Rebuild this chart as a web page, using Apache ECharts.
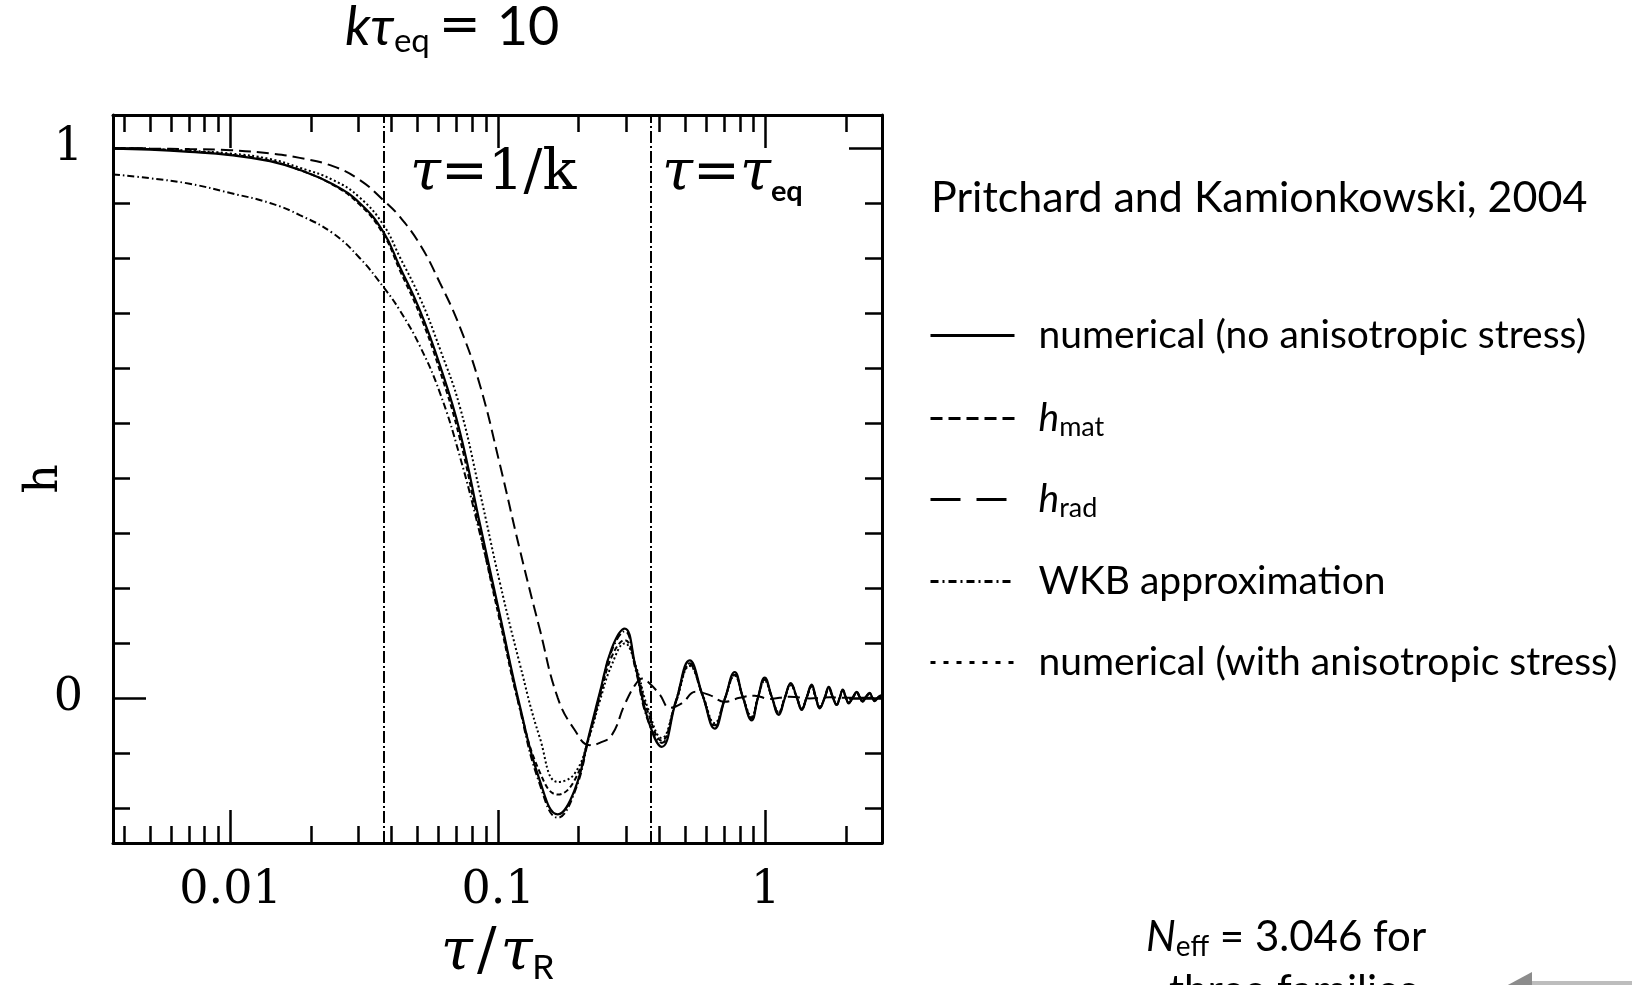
<!DOCTYPE html>
<html>
<head>
<meta charset="utf-8">
<title>k tau_eq = 10</title>
<script src="https://cdn.jsdelivr.net/npm/echarts@6/dist/echarts.min.js"></script>
<style>
  html, body { margin: 0; padding: 0; background: #fff; }
  #chart { width: 1632px; height: 985px; }
</style>
</head>
<body>
<div id="chart"></div>
<script>
var tauMain = [0.00364, 0.0050, 0.00704, 0.0100, 0.01404, 0.01816, 0.02413, 0.0304, 0.0373, 0.0429,
  0.0510, 0.0606, 0.0719, 0.0854, 0.1015, 0.1205, 0.1431, 0.1671, 0.1931, 0.2201,
  0.2398, 0.2659, 0.2973, 0.3268, 0.3624, 0.4089, 0.4611, 0.520, 0.5816, 0.645,
  0.7029, 0.766, 0.8205, 0.8865, 0.9335, 0.9915, 1.053, 1.118, 1.178, 1.240,
  1.306, 1.363, 1.423, 1.485, 1.537, 1.591, 1.661, 1.720, 1.780, 1.842,
  1.890, 1.940, 1.990, 2.043, 2.113, 2.188, 2.245, 2.303, 2.363, 2.446,
  2.499, 2.554, 2.644, 2.72];

// numerical (no anisotropic stress) - solid
var hNumerical = [0.999, 0.997, 0.993, 0.987, 0.976, 0.960, 0.934, 0.900, 0.847, 0.784,
  0.705, 0.605, 0.485, 0.318, 0.151, -0.014, -0.150, -0.212, -0.168, -0.062,
  0.009, 0.090, 0.126, 0.055, -0.038, -0.089, -0.008, 0.068, 0.004, -0.056,
  -0.003, 0.047, 0.002, -0.041, -0.002, 0.037, 0.002, -0.031, -0.001, 0.027,
  0.001, -0.022, 0.001, 0.024, 0.002, -0.019, 0.000, 0.020, 0.002, -0.013,
  0.000, 0.015, 0.002, -0.010, 0.000, 0.011, 0.002, -0.007, 0.001, 0.009,
  0.001, -0.006, 0.002, 0.005];

// h_mat - short dashes
var hMat = [1.000, 0.998, 0.994, 0.988, 0.977, 0.960, 0.933, 0.897, 0.843, 0.778,
  0.697, 0.595, 0.472, 0.305, 0.140, -0.018, -0.135, -0.176, -0.150, -0.066,
  0.000, 0.075, 0.105, 0.056, -0.025, -0.078, -0.008, 0.060, 0.004, -0.050,
  -0.002, 0.042, 0.002, -0.036, -0.001, 0.033, 0.002, -0.027, 0.000, 0.024,
  0.001, -0.020, 0.001, 0.021, 0.001, -0.017, 0.000, 0.018, 0.001, -0.012,
  0.000, 0.014, 0.001, -0.009, 0.000, 0.010, 0.001, -0.006, 0.001, 0.008,
  0.001, -0.005, 0.002, 0.004];

// WKB approximation - dash dot
var hWkb = [0.952, 0.945, 0.935, 0.918, 0.900, 0.878, 0.845, 0.800, 0.747, 0.705,
  0.640, 0.555, 0.440, 0.300, 0.146, -0.020, -0.157, -0.218, -0.172, -0.066,
  0.006, 0.086, 0.121, 0.050, -0.040, -0.082, -0.006, 0.063, 0.003, -0.052,
  -0.002, 0.043, 0.002, -0.038, -0.001, 0.034, 0.002, -0.028, 0.000, 0.025,
  0.001, -0.020, 0.001, 0.022, 0.001, -0.017, 0.000, 0.018, 0.001, -0.012,
  0.000, 0.014, 0.001, -0.009, 0.000, 0.010, 0.001, -0.007, 0.001, 0.008,
  0.001, -0.005, 0.002, 0.004];

// numerical (with anisotropic stress) - dotted
var hAniso = [0.999, 0.998, 0.995, 0.990, 0.980, 0.964, 0.942, 0.910, 0.860, 0.802,
  0.728, 0.635, 0.530, 0.375, 0.210, 0.062, -0.072, -0.153, -0.138, -0.068,
  -0.006, 0.060, 0.099, 0.058, -0.018, -0.073, -0.009, 0.058, 0.005, -0.046,
  -0.002, 0.040, 0.003, -0.034, -0.001, 0.031, 0.002, -0.026, 0.000, 0.023,
  0.001, -0.019, 0.001, 0.020, 0.001, -0.016, 0.000, 0.017, 0.001, -0.011,
  0.000, 0.013, 0.001, -0.008, 0.000, 0.009, 0.001, -0.006, 0.001, 0.007,
  0.001, -0.005, 0.002, 0.004];

// h_rad oscillates slower, so it has its own sample points - long dashes
var tauRad = [0.00364, 0.0050, 0.00704, 0.0100, 0.01404, 0.01816, 0.02413, 0.0304, 0.0373, 0.0429,
  0.0510, 0.0606, 0.0719, 0.0854, 0.1015, 0.1205, 0.1431, 0.1671, 0.1931, 0.2201,
  0.2398, 0.2659, 0.2973, 0.3268, 0.3471, 0.3686, 0.4018, 0.4379, 0.4855, 0.5477,
  0.6177, 0.7029, 0.7995, 0.9097, 1.035, 1.229, 1.460, 1.735, 2.060, 2.446, 2.72];
var hRad = [1.000, 0.999, 0.998, 0.996, 0.990, 0.982, 0.967, 0.942, 0.905, 0.875,
  0.825, 0.755, 0.675, 0.570, 0.425, 0.270, 0.125, 0.000, -0.058, -0.086,
  -0.082, -0.068, -0.012, 0.025, 0.035, 0.026, 0.006, -0.018, -0.010, 0.011,
  0.005, -0.007, 0.000, 0.004, -0.002, 0.002, -0.001, 0.001, 0.000, 0.000, 0.000];

// the two vertical reference lines
var tauOneOverK = 0.0373;
var tauEq = 0.373;

var xMajorTicks = [0.01, 0.1, 1];
var xMajorLabels = ['0.01', '0.1', '1'];
var xMinorTicks = [0.004, 0.005, 0.006, 0.007, 0.008, 0.009,
  0.02, 0.03, 0.04, 0.05, 0.06, 0.07, 0.08, 0.09,
  0.2, 0.3, 0.4, 0.5, 0.6, 0.7, 0.8, 0.9, 2];
var yMajorTicks = [0, 1];
var yMinorTicks = [-0.2, -0.1, 0.1, 0.2, 0.3, 0.4, 0.5, 0.6, 0.7, 0.8, 0.9];

var seriesNames = ['numerical (no anisotropic stress)', 'h_mat', 'h_rad',
  'WKB approximation', 'numerical (with anisotropic stress)'];

var TAU_MIN = 0.00364, TAU_MAX = 2.72;
var H_MIN = -0.264, H_MAX = 1.06;
var LOG_MIN = Math.log10(TAU_MIN), LOG_MAX = Math.log10(TAU_MAX);

var SERIF = '"DejaVu Serif", "Liberation Serif", serif';
var SANS = 'Lato, "Noto Sans", sans-serif';
var MONO = '"Liberation Mono", "DejaVu Sans Mono", monospace';

var chart = echarts.init(document.getElementById('chart'));

function pairs(xs, ys) {
  return xs.map(function (x, i) { return [x, ys[i]]; });
}

function curve(name, xs, ys, dash, width) {
  return {
    name: name,
    type: 'line',
    xAxisIndex: 0,
    yAxisIndex: 0,
    data: pairs(xs, ys),
    symbol: 'none',
    smooth: 0.45,
    silent: true,
    lineStyle: { color: '#000', width: width, type: dash }
  };
}

// ticks are drawn on value axes that run over log10(tau), so every tick sits where the log axis puts it
function xTickAxis(pos, ticks, len, showLine, showLabels) {
  return {
    type: 'value',
    position: pos,
    min: LOG_MIN,
    max: LOG_MAX,
    axisLine: { show: showLine, onZero: false, lineStyle: { color: '#000', width: 3 } },
    axisTick: {
      show: true, inside: true, length: len,
      customValues: ticks.map(Math.log10),
      lineStyle: { color: '#000', width: 2.5 }
    },
    axisLabel: {
      show: showLabels,
      customValues: xMajorTicks.map(Math.log10),
      margin: 25,
      fontFamily: SERIF,
      fontSize: 46,
      color: '#000',
      formatter: function (v) {
        for (var i = 0; i < xMajorTicks.length; i++) {
          if (Math.abs(Math.log10(xMajorTicks[i]) - v) < 1e-6) return xMajorLabels[i];
        }
        return '';
      }
    },
    splitLine: { show: false }
  };
}

function yTickAxis(pos, ticks, len, showLine, showLabels) {
  return {
    type: 'value',
    position: pos,
    min: H_MIN,
    max: H_MAX,
    axisLine: { show: showLine, onZero: false, lineStyle: { color: '#000', width: 3 } },
    axisTick: {
      show: true, inside: true, length: len,
      customValues: ticks,
      lineStyle: { color: '#000', width: 2.5 }
    },
    axisLabel: {
      show: showLabels,
      customValues: yMajorTicks,
      margin: 30,
      padding: [14, 0, 0, 0],
      fontFamily: SERIF,
      fontSize: 46,
      color: '#000'
    },
    splitLine: { show: false }
  };
}

var bottomMajor = xTickAxis('bottom', xMajorTicks, 33, true, true);
bottomMajor.name = '{t|τ}{n|/}{t|τ}{r|R}';
bottomMajor.nameLocation = 'middle';
bottomMajor.nameGap = 78;
bottomMajor.nameMoveOverlap = false;
bottomMajor.nameTextStyle = {
  rich: {
    t: { fontFamily: SERIF, fontStyle: 'italic', fontSize: 58, lineHeight: 66, color: '#000' },
    n: { fontFamily: SERIF, fontSize: 58, lineHeight: 66, color: '#000', padding: [0, 4, 0, 4] },
    r: { fontFamily: MONO, fontSize: 36, lineHeight: 34, verticalAlign: 'bottom', color: '#000' }
  }
};

var leftMajor = yTickAxis('left', yMajorTicks, 33, true, true);
leftMajor.name = 'h';
leftMajor.nameLocation = 'middle';
leftMajor.nameRotate = 90;
leftMajor.nameGap = 45;
leftMajor.nameMoveOverlap = false;
leftMajor.nameTextStyle = { fontFamily: SERIF, fontSize: 46, color: '#000' };

var legendDash = ['solid', [12, 6], [30, 16], [8, 4, 2, 4], [5, 8]];
var legendTop = [316, 399, 480, 562, 643];

function legendLabel(name) {
  if (name === 'h_mat') return '{h|h}{s|mat}';
  if (name === 'h_rad') return '{h|h}{s|rad}';
  return '{t|' + name + '}';
}

var legendRich = {
  t: { fontFamily: SANS, fontSize: 39, lineHeight: 44, color: '#000', padding: [0, 0, 0, 19] },
  h: { fontFamily: SANS, fontStyle: 'italic', fontSize: 39, lineHeight: 44, color: '#000', padding: [0, 0, 0, 19] },
  s: { fontFamily: SANS, fontSize: 27, lineHeight: 22, verticalAlign: 'bottom', color: '#000' }
};

var legends = seriesNames.map(function (name, i) {
  return {
    data: [name],
    orient: 'vertical',
    left: 929,
    top: legendTop[i],
    padding: 0,
    itemWidth: 84,
    itemHeight: 44,
    selectedMode: false,
    itemStyle: { opacity: 0 },
    lineStyle: { color: '#000', width: 3, type: legendDash[i] },
    formatter: legendLabel,
    textStyle: { rich: legendRich }
  };
});

var option = {
  animation: false,
  backgroundColor: '#fff',
  title: {
    text: '{i|kτ}{s|eq}{e|=}{n|10}',
    left: 340,
    top: -7,
    textStyle: {
      rich: {
        i: { fontFamily: SANS, fontStyle: 'italic', fontWeight: 'normal', fontSize: 54, lineHeight: 60, color: '#000' },
        s: { fontFamily: SANS, fontWeight: 'normal', fontSize: 33, lineHeight: 28, verticalAlign: 'bottom', color: '#000' },
        e: { fontFamily: '"DejaVu Sans", sans-serif', fontWeight: 'normal', fontSize: 50, lineHeight: 60, color: '#000', padding: [0, 0, 0, 9] },
        n: { fontFamily: SANS, fontWeight: 'normal', fontSize: 54, lineHeight: 60, color: '#000', padding: [0, 0, 0, 16] }
      }
    }
  },
  legend: legends,
  grid: { left: 113, top: 115, right: 750, bottom: 142, containLabel: false, outerBoundsMode: 'none' },
  xAxis: [
    { type: 'log', logBase: 10, min: TAU_MIN, max: TAU_MAX, show: false, axisLine: { onZero: false } },
    bottomMajor,
    xTickAxis('bottom', xMinorTicks, 17, false, false),
    xTickAxis('top', xMajorTicks, 33, true, false),
    xTickAxis('top', xMinorTicks, 17, false, false)
  ],
  yAxis: [
    leftMajor,
    yTickAxis('left', yMinorTicks, 17, false, false),
    yTickAxis('right', yMajorTicks, 33, true, false),
    yTickAxis('right', yMinorTicks, 17, false, false)
  ],
  series: [
    curve(seriesNames[0], tauMain, hNumerical, 'solid', 2.2),
    curve(seriesNames[1], tauMain, hMat, [5, 3], 2),
    curve(seriesNames[2], tauRad, hRad, [12, 6], 2),
    curve(seriesNames[3], tauMain, hWkb, [7, 3, 1.5, 3], 2),
    curve(seriesNames[4], tauMain, hAniso, [2, 2.5], 2),
    {
      name: 'reference lines',
      type: 'line',
      xAxisIndex: 0,
      yAxisIndex: 0,
      data: [],
      silent: true,
      markLine: {
        silent: true,
        precision: 6,
        symbol: ['none', 'none'],
        label: { show: false },
        lineStyle: { color: '#000', width: 2, type: [12, 3, 2, 3] },
        data: [{ xAxis: tauOneOverK }, { xAxis: tauEq }]
      }
    }
  ],
  graphic: [
    {
      type: 'text', x: 410, y: 174,
      style: {
        text: '{t|τ}{n|=1/k}',
        verticalAlign: 'middle',
        rich: {
          t: { fontFamily: SERIF, fontStyle: 'italic', fontSize: 56, lineHeight: 64, fill: '#000' },
          n: { fontFamily: SERIF, fontSize: 56, lineHeight: 64, fill: '#000' }
        }
      }
    },
    {
      type: 'text', x: 662, y: 174,
      style: {
        text: '{t|τ}{n|=}{t|τ}{s|eq}',
        verticalAlign: 'middle',
        rich: {
          t: { fontFamily: SERIF, fontStyle: 'italic', fontSize: 56, lineHeight: 64, fill: '#000' },
          n: { fontFamily: SERIF, fontSize: 56, lineHeight: 64, fill: '#000' },
          s: { fontFamily: SANS, fontWeight: 'bold', fontSize: 29, lineHeight: 28, verticalAlign: 'bottom', fill: '#000' }
        }
      }
    },
    {
      type: 'text', x: 931, y: 198,
      style: { text: 'Pritchard and Kamionkowski, 2004', fontFamily: SANS, fontSize: 43, fill: '#000', verticalAlign: 'middle' }
    },
    {
      type: 'text', x: 1146, y: 937,
      style: {
        text: '{i|N}{s|eff}{n| = 3.046 for}',
        verticalAlign: 'middle',
        rich: {
          i: { fontFamily: SANS, fontStyle: 'italic', fontSize: 42, lineHeight: 48, fill: '#000' },
          s: { fontFamily: SANS, fontSize: 28, lineHeight: 24, verticalAlign: 'bottom', fill: '#000' },
          n: { fontFamily: SANS, fontSize: 42, lineHeight: 48, fill: '#000' }
        }
      }
    },
    {
      type: 'text', x: 1169, y: 991,
      style: { text: 'three families', fontFamily: SANS, fontSize: 42, fill: '#000', verticalAlign: 'middle' }
    },
    {
      type: 'polygon',
      shape: { points: [[1506, 986], [1532, 972], [1532, 1000]] },
      style: { fill: '#8c8c8c' }
    },
    {
      type: 'rect',
      shape: { x: 1532, y: 981, width: 100, height: 8 },
      style: { fill: '#bdbdbd' }
    }
  ]
};

chart.setOption(option);
</script>
</body>
</html>
